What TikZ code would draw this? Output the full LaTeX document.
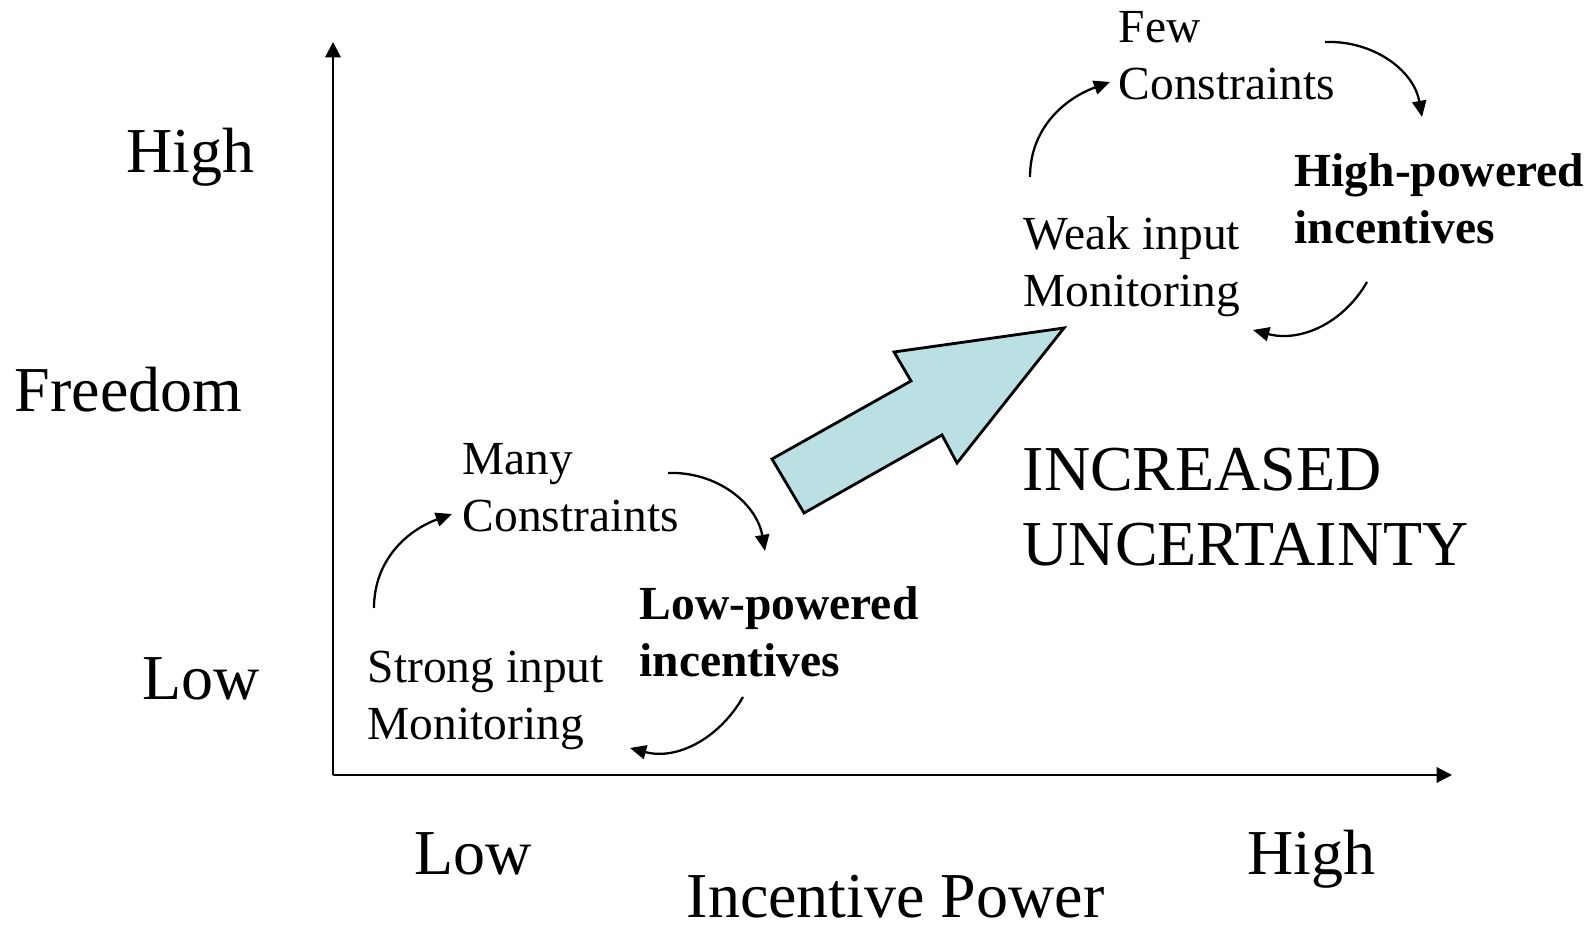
\documentclass[tikz,border=0pt]{standalone}
\usepackage{fontspec}
\setmainfont{Liberation Serif}
\usetikzlibrary{arrows.meta}

\definecolor{arrowfill}{RGB}{187,224,227}

\newcommand\smalltxt{\fontsize{13.5}{16.4}\selectfont}
\newcommand\bigtxt{\fontsize{18.2}{21.6}\selectfont}

\tikzset{
  lbl/.style={inner sep=0pt, anchor=base west, align=left},
  axis/.style={line width=0.6pt, -{Triangle[length=4.4pt,width=4.4pt]}},
  loop/.style={line width=0.65pt, -{Triangle[length=4.6pt,width=4pt]}}
}

\begin{document}
\begin{tikzpicture}[x=0.01cm,y=0.01cm]

      \useasboundingbox (0,0) rectangle (1595,928);

      % axes
      \coordinate (o)  at (333,153);
      \coordinate (yt) at (333,886);
      \coordinate (xt) at (1452,153);
      \draw[axis] (o) -- (yt);
      \draw[axis] (o) -- (xt);

      % labels, placed at the baseline of their last line
      \begin{scope}[every node/.style={lbl,font=\bigtxt}]
        \node (hi)  at (126,755)  {High};
        \node (fr)  at (14,516)   {Freedom};
        \node (lo)  at (142,228)  {Low};
        \node (xlo) at (414,53)   {Low};
        \node (xhi) at (1247,53)  {High};
        \node (ip)  at (686,10)   {Incentive Power};
        \node (unc) at (1022,362) {INCREASED\\UNCERTAINTY};
      \end{scope}

      \begin{scope}[every node/.style={lbl,font=\smalltxt}]
        \node (many)   at (462,396)  {Many\\Constraints};
        \node (strong) at (367,188)  {Strong input\\Monitoring};
        \node (lowp)   at (639,251)  {\textbf{Low-powered}\\\textbf{incentives}};
        \node (few)    at (1118,828) {Few\\Constraints};
        \node (weak)   at (1023,621) {Weak input\\Monitoring};
        \node (highp)  at (1294,684) {\textbf{High-powered}\\\textbf{incentives}};
      \end{scope}

      % big arrow
      \draw[line width=0.8pt, fill=arrowfill]
        (772,469) -- (911,547) -- (894,576) -- (1064,600)
        -- (957,465) -- (942,493) -- (804,415) -- cycle;

      % loop ends
      \coordinate (l1a) at (374,320);
      \coordinate (l1b) at (452,414);
      \coordinate (l2a) at (668,455);
      \coordinate (l2b) at (765,377);
      \coordinate (l3a) at (743,231);
      \coordinate (l3b) at (630,180);
      \coordinate (u1a) at (1030,751);
      \coordinate (u1b) at (1110,846);
      \coordinate (u2a) at (1325,886);
      \coordinate (u2b) at (1422,811);
      \coordinate (u3a) at (1367,646);
      \coordinate (u3b) at (1253,598);

      \begin{scope}[every path/.style={loop}]
        \draw (l1a) to[out=90,in=200] (l1b);
        \draw (l2a) to[out=2,in=100] (l2b);
        \draw (l3a) to[out=-120,in=-15] (l3b);
        \draw (u1a) to[out=90,in=200] (u1b);
        \draw (u2a) to[out=2,in=100] (u2b);
        \draw (u3a) to[out=-120,in=-15] (u3b);
      \end{scope}

    \end{tikzpicture}
\end{document}
